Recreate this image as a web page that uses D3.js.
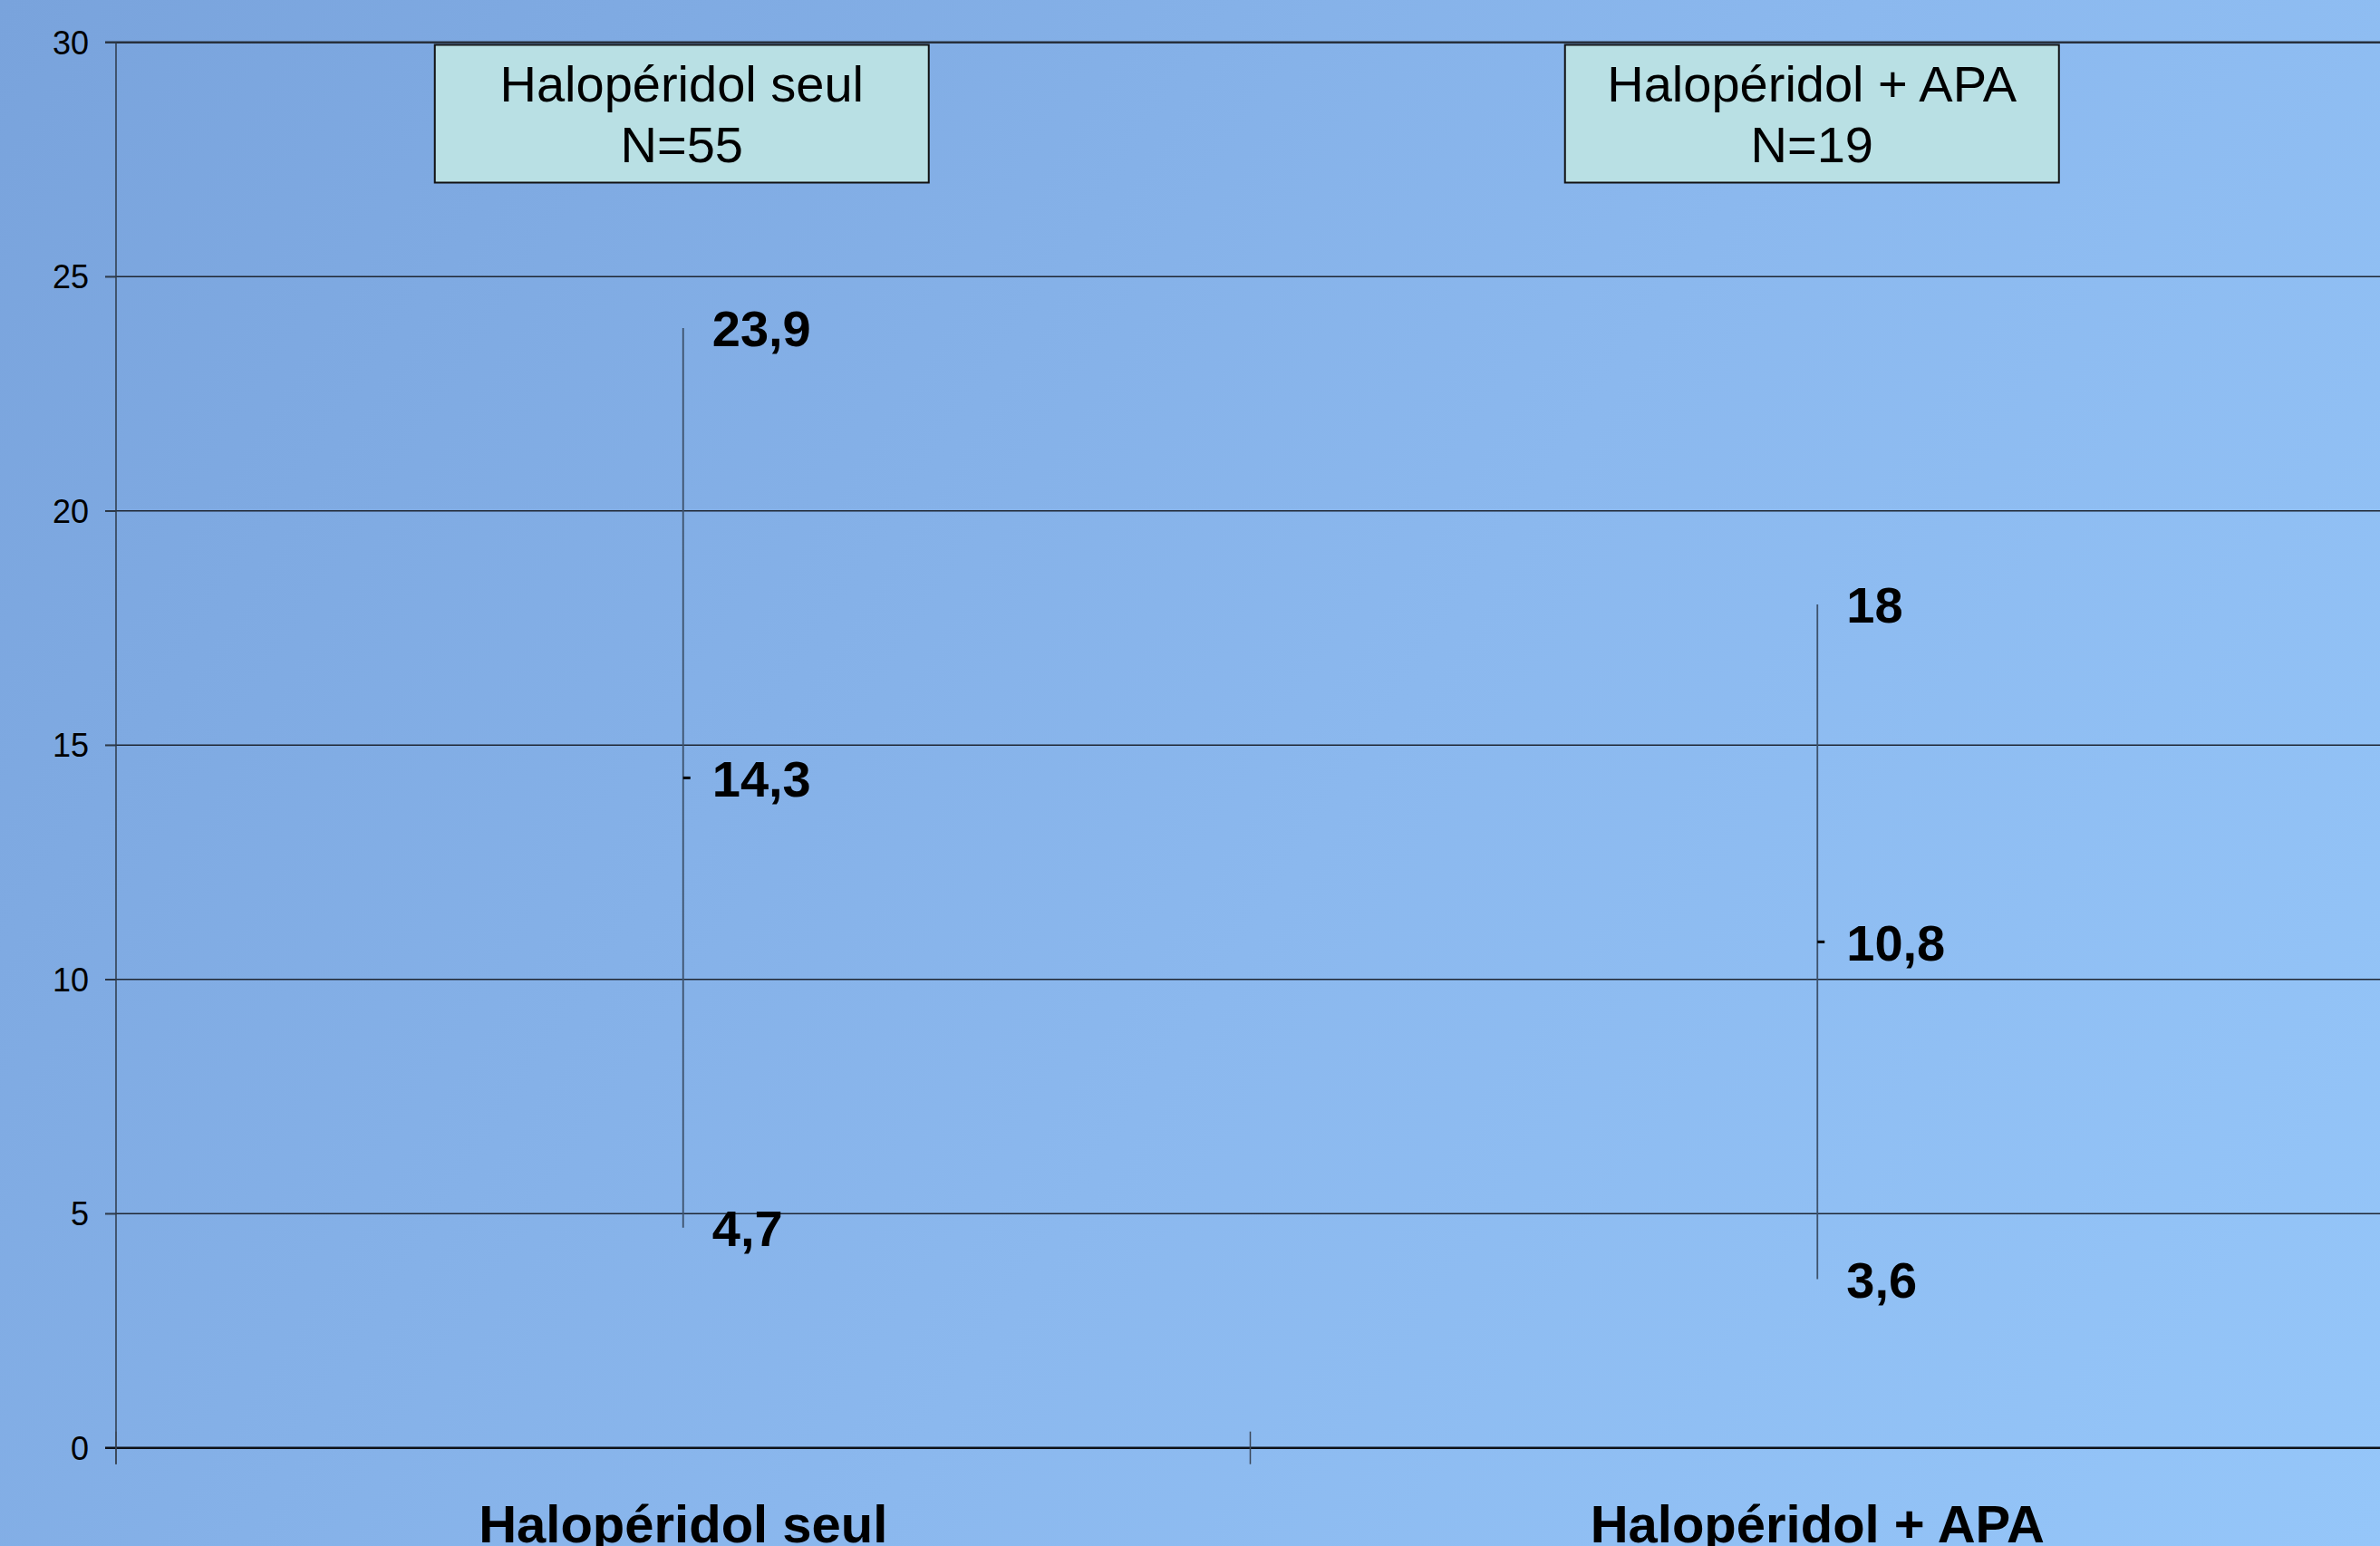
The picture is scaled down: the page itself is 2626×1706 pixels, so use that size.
<!DOCTYPE html>
<html>
<head>
<meta charset="utf-8">
<script src="https://cdn.jsdelivr.net/npm/d3@7"></script>
<style>
  html, body { margin: 0; padding: 0; overflow: hidden; }
  svg { display: block; }
</style>
</head>
<body>
<svg id="chart" width="2626" height="1706"></svg>
<script>
const categories = ["Halopéridol seul", "Halopéridol + APA"];
const nValues = [55, 19];
const highValues = [23.9, 18];
const meanValues = [14.3, 10.8];
const lowValues = [4.7, 3.6];
const yTicks = [0, 5, 10, 15, 20, 25, 30];

const W = 2626, H = 1706;
const svg = d3.select("#chart");
const font = "'Liberation Sans', Arial, sans-serif";

// background gradient
const defs = svg.append("defs");
const grad = defs.append("linearGradient").attr("id", "bg")
  .attr("gradientUnits", "userSpaceOnUse")
  .attr("x1", 0).attr("y1", 0).attr("x2", W).attr("y2", H);
grad.append("stop").attr("offset", 0).attr("stop-color", "#79a3dc");
grad.append("stop").attr("offset", 0.55).attr("stop-color", "#8bb8ee");
grad.append("stop").attr("offset", 1).attr("stop-color", "#95c6f9");
svg.append("rect").attr("width", W).attr("height", H).attr("fill", "url(#bg)");

const x = d3.scaleBand().domain(categories).range([128, 2631]).padding(0);
const y = d3.scaleLinear().domain([0, 30]).range([1597.7, 46.7]);

// gridlines
svg.append("g").selectAll("line").data(yTicks.filter(t => t > 0 && t < 30)).join("line")
  .attr("x1", 116).attr("x2", W)
  .attr("y1", d => y(d)).attr("y2", d => y(d))
  .attr("stroke", "#1e2633").attr("stroke-width", 1.4);
// top line
svg.append("line").attr("x1", 116).attr("x2", W).attr("y1", y(30)).attr("y2", y(30))
  .attr("stroke", "#27303c").attr("stroke-width", 2.6);

// y axis
const yAxis = d3.axisLeft(y).tickValues(yTicks).tickSize(12).tickPadding(18)
  .tickFormat(d => String(d));
const gy = svg.append("g").attr("transform", "translate(128,0)").call(yAxis);
gy.select(".domain").attr("stroke", "#2e3a48").attr("stroke-width", 1.5)
  .attr("d", `M0,${y(30)}V${y(0) + 18}`);
gy.selectAll(".tick line").attr("stroke", "#2e3a48").attr("stroke-width", 1.5).attr("x2", -12);
gy.selectAll(".tick text").attr("font-family", font).attr("font-size", 36)
  .attr("fill", "#000").attr("dy", "0.35em");

// x axis line and cross ticks
svg.append("line").attr("x1", 116).attr("x2", W).attr("y1", y(0)).attr("y2", y(0))
  .attr("stroke", "#0d1117").attr("stroke-width", 2.6);
const boundaries = [x.range()[0], x(categories[1]), x.range()[1]];
svg.append("g").selectAll("line").data(boundaries).join("line")
  .attr("x1", d => d).attr("x2", d => d)
  .attr("y1", y(0) - 18).attr("y2", y(0) + 18)
  .attr("stroke", "#3a4656").attr("stroke-width", 1.5);

// category labels
svg.append("g").selectAll("text").data(categories).join("text")
  .attr("x", d => x(d) + x.bandwidth() / 2)
  .attr("y", 1702)
  .attr("text-anchor", "middle")
  .attr("font-family", font).attr("font-size", 58).attr("font-weight", "bold")
  .attr("fill", "#000")
  .text(d => d);

const fmt = v => String(v).replace(".", ",");
const cx = i => x(categories[i]) + x.bandwidth() / 2;

// whiskers
const g = svg.append("g");
categories.forEach((c, i) => {
  g.append("line").attr("x1", cx(i)).attr("x2", cx(i))
    .attr("y1", y(highValues[i])).attr("y2", y(lowValues[i]))
    .attr("stroke", "#3d526c").attr("stroke-width", 1.8);
  g.append("line").attr("x1", cx(i)).attr("x2", cx(i) + 8)
    .attr("y1", y(meanValues[i])).attr("y2", y(meanValues[i]))
    .attr("stroke", "#000").attr("stroke-width", 3);
  [highValues[i], meanValues[i], lowValues[i]].forEach(v => {
    g.append("text").attr("x", cx(i) + 32).attr("y", y(v))
      .attr("dy", "0.36em")
      .attr("font-family", font).attr("font-size", 56).attr("font-weight", "bold")
      .attr("fill", "#000").text(fmt(v));
  });
});

// top boxes (text boxes placed slightly left of band centres, as in the original)
const boxW = 545, boxH = 152;
const boxShift = [-1.5, -6];
categories.forEach((c, i) => {
  const bc = cx(i) + boxShift[i];
  const bx = bc - boxW / 2;
  svg.append("rect").attr("x", bx).attr("y", 49.5).attr("width", boxW).attr("height", boxH)
    .attr("fill", "#b9e0e4").attr("stroke", "#111").attr("stroke-width", 2);
  svg.append("text").attr("x", bc).attr("y", 112)
    .attr("text-anchor", "middle").attr("font-family", font).attr("font-size", 56)
    .attr("fill", "#000").text(c);
  svg.append("text").attr("x", bc).attr("y", 179)
    .attr("text-anchor", "middle").attr("font-family", font).attr("font-size", 56)
    .attr("fill", "#000").text("N=" + nValues[i]);
});
</script>
</body>
</html>
